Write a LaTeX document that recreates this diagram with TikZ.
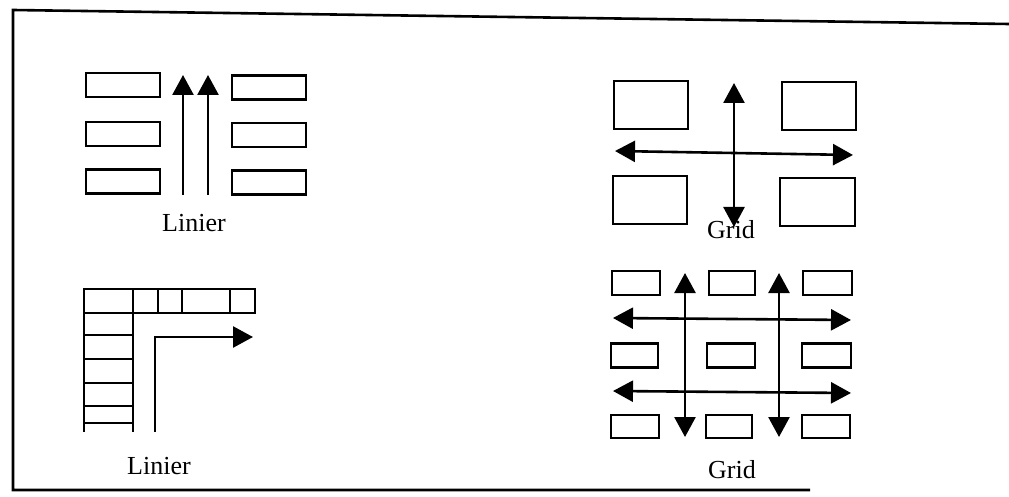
\documentclass[tikz,border=0pt]{standalone}
\usepackage{fontspec}
\setmainfont{Liberation Serif}
\usetikzlibrary{arrows.meta}
\begin{document}
\begin{tikzpicture}[x=1pt,y=-1pt,
  ln/.style={line width=2.6pt},
  box/.style={draw, line width=2.6pt, inner sep=0pt, minimum width=#1},
  arr/.style={ln, -{Triangle[length=20pt,width=21pt]}},
  darr/.style={ln, {Triangle[length=20pt,width=21pt]}-{Triangle[length=20pt,width=21pt]}},
  lbl/.style={font=\fontsize{26}{30}\selectfont, anchor=base, inner sep=0pt}]
\useasboundingbox (0,0) rectangle (1009,497);
% frame
\coordinate (f1) at (1009,24);
\coordinate (f2) at (13,10);
\coordinate (f3) at (13,490);
\coordinate (f4) at (810,490);
\draw[ln] (f1) -- (f2) -- (f3) -- (f4);

% ---------- top-left: Linier ----------
\node[box=74pt, minimum height=24pt] (l1) at (123,85) {};
\node[box=74pt, minimum height=24pt] (l2) at (123,134) {};
\node[box=74pt, minimum height=24pt] (l3) at (123,181.5) {};
\node[box=74pt, minimum height=24pt] (r1) at (269,87.5) {};
\node[box=74pt, minimum height=24pt] (r2) at (269,135) {};
\node[box=74pt, minimum height=24pt] (r3) at (269,182.5) {};
\coordinate (a1s) at (183,195); \coordinate (a1e) at (183,75);
\coordinate (a2s) at (208,195); \coordinate (a2e) at (208,75);
\draw[arr] (a1s) -- (a1e);
\draw[arr] (a2s) -- (a2e);
\node[lbl] (lin1) at (194,231) {Linier};

% ---------- bottom-left: Linier (L shape) ----------
\draw[ln] (84,289) rectangle (255,313);
\foreach \x in {158,182,230} \draw[ln] (\x,289) -- (\x,313);
\draw[ln] (84,289) -- (84,432);
\draw[ln] (133,289) -- (133,432);
\foreach \y in {335,359,383,406,423} \draw[ln] (84,\y) -- (133,\y);
\coordinate (b1) at (155,432);
\coordinate (b2) at (155,337);
\coordinate (b3) at (253,337);
\draw[arr] (b1) -- (b2) -- (b3);
\node[lbl] (lin2) at (159,474) {Linier};

% ---------- top-right: Grid ----------
\node[box=74pt, minimum height=48pt] (g1) at (651,105) {};
\node[box=74pt, minimum height=48pt] (g2) at (819,106) {};
\node[box=74pt, minimum height=48pt] (g3) at (650,200) {};
\node[box=75pt, minimum height=48pt] (g4) at (817.5,202) {};
\coordinate (gv1) at (734,83); \coordinate (gv2) at (734,227);
\coordinate (gh1) at (615,151); \coordinate (gh2) at (853,155);
\draw[darr] (gv1) -- (gv2);
\draw[darr] (gh1) -- (gh2);
\node[lbl] (grid1) at (731,238) {Grid};

% ---------- bottom-right: Grid ----------
\node[box=48pt, minimum height=24pt] (h11) at (636,283) {};
\node[box=46pt, minimum height=24pt] (h12) at (732,283) {};
\node[box=49pt, minimum height=24pt] (h13) at (827.5,283) {};
\node[box=47pt, minimum height=24pt] (h21) at (634.5,355.5) {};
\node[box=48pt, minimum height=24pt] (h22) at (731,355.5) {};
\node[box=49pt, minimum height=24pt] (h23) at (826.5,355.5) {};
\node[box=48pt, minimum height=23pt] (h31) at (635,426.5) {};
\node[box=46pt, minimum height=23pt] (h32) at (729,426.5) {};
\node[box=48pt, minimum height=23pt] (h33) at (826,426.5) {};
\coordinate (v1a) at (685,273); \coordinate (v1b) at (685,437);
\coordinate (v2a) at (779,273); \coordinate (v2b) at (779,437);
\coordinate (hh1a) at (613,318); \coordinate (hh1b) at (851,320);
\coordinate (hh2a) at (613,391); \coordinate (hh2b) at (851,393);
\draw[darr] (v1a) -- (v1b);
\draw[darr] (v2a) -- (v2b);
\draw[darr] (hh1a) -- (hh1b);
\draw[darr] (hh2a) -- (hh2b);
\node[lbl] (grid2) at (732,478) {Grid};
\end{tikzpicture}
\end{document}
